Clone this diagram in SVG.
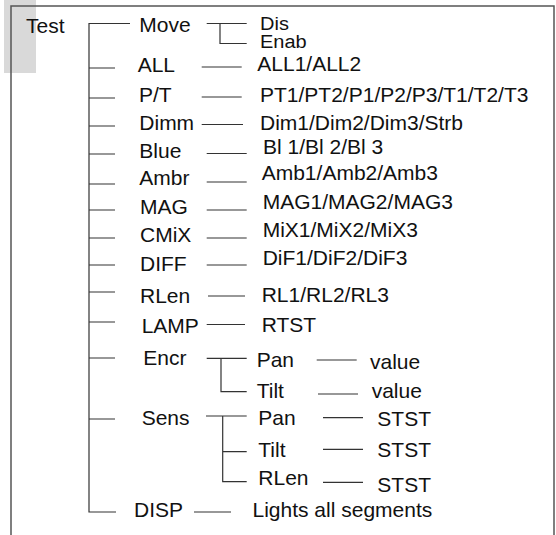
<svg xmlns="http://www.w3.org/2000/svg" width="556" height="535" viewBox="0 0 556 535">
<style>
text{font-family:"Liberation Sans",Arial,sans-serif;font-size:21px;fill:#111}
.c{fill:none;stroke:#333;stroke-width:1.2}
.b{fill:none;stroke:#555;stroke-width:1.5}
</style>
<rect x="4" y="0" width="32" height="73" fill="#d9d9d9"/>
<path class="b" d="M11,535 V6 H554 V535"/>
<g id="connectors">
<path class="c" d="M130,23.5 H89 V512 H116"/>
<path class="c" d="M89,68 H115 M89,98 H115 M89,126 H115 M89,154 H115 M89,184 H115 M89,210 H115 M89,238 H115 M89,265 H115 M89,292 H115 M89,322 H115 M89,358 H115 M89,419 H115"/>
<path class="c" d="M206.7,23.5 H246.7 M220,23.5 V43.5 H246.7"/>
<path class="c" d="M201.7,67 H241.7 M201.7,97 H241.7 M201.7,124.5 H243"/>
<path class="c" d="M206.7,153.5 H246.7 M206.7,182 H246.7 M206.7,210 H246.7 M206.7,238 H246.7 M206.7,265 H246.7"/>
<path class="c" d="M208,296 H245 M206.7,324.5 H245"/>
<path class="c" d="M206.7,358.3 H246.7 M221,358.3 V391.7 H246.7"/>
<path class="c" d="M316.7,360 H356.7 M318,394 H358"/>
<path class="c" d="M206,416 H246.7 M222.7,416 V481.7 H246.7 M222.7,451.7 H246.7"/>
<path class="c" d="M323,417.7 H363 M323,449.3 H363 M323,482.3 H363"/>
<path class="c" d="M194,512 H231"/>
</g>
<g id="test"><text x="26" y="33">Test</text></g>
<g id="move"><text x="139.3" y="32">Move</text></g>
<g id="move-dis"><text transform="translate(260,30) scale(1,0.88)" style="font-size:20px">Dis</text></g>
<g id="move-enab"><text transform="translate(260,48) scale(1,0.88)" style="font-size:20px">Enab</text></g>
<g id="all"><text x="137.7" y="71.5">ALL</text><text x="257.3" y="71">ALL1/ALL2</text></g>
<g id="pt"><text x="139" y="101.5">P/T</text><text x="260" y="101.5">PT1/PT2/P1/P2/P3/T1/T2/T3</text></g>
<g id="dimm"><text x="139.3" y="130">Dimm</text><text x="260" y="130">Dim1/Dim2/Dim3/Strb</text></g>
<g id="blue"><text x="139.3" y="157.5">Blue</text><text x="263" y="153.5">Bl 1/Bl 2/Bl 3</text></g>
<g id="ambr"><text x="139.3" y="185">Ambr</text><text x="261.7" y="180">Amb1/Amb2/Amb3</text></g>
<g id="mag"><text x="140" y="214">MAG</text><text x="262.7" y="208.5">MAG1/MAG2/MAG3</text></g>
<g id="cmix"><text x="140" y="242">CMiX</text><text x="262.7" y="237">MiX1/MiX2/MiX3</text></g>
<g id="diff"><text x="140" y="270.5">DIFF</text><text x="262.7" y="265">DiF1/DiF2/DiF3</text></g>
<g id="rlen"><text x="140" y="303">RLen</text><text x="261.7" y="301.7">RL1/RL2/RL3</text></g>
<g id="lamp"><text x="141.7" y="333">LAMP</text><text x="261.7" y="331.7">RTST</text></g>
<g id="encr"><text x="143.3" y="365">Encr</text></g>
<g id="encr-pan"><text x="256.7" y="366.7">Pan</text><text x="370" y="369">value</text></g>
<g id="encr-tilt"><text x="256.7" y="398.3">Tilt</text><text x="371.7" y="398.3">value</text></g>
<g id="sens"><text x="141.7" y="425">Sens</text></g>
<g id="sens-pan"><text x="258.3" y="425">Pan</text><text x="377.3" y="426">STST</text></g>
<g id="sens-tilt"><text x="258.3" y="456.7">Tilt</text><text x="377.3" y="456.7">STST</text></g>
<g id="sens-rlen"><text x="258.3" y="485">RLen</text><text x="377.3" y="491.7">STST</text></g>
<g id="disp"><text x="134" y="517">DISP</text><text x="252.5" y="516.7">Lights all segments</text></g>
</svg>
